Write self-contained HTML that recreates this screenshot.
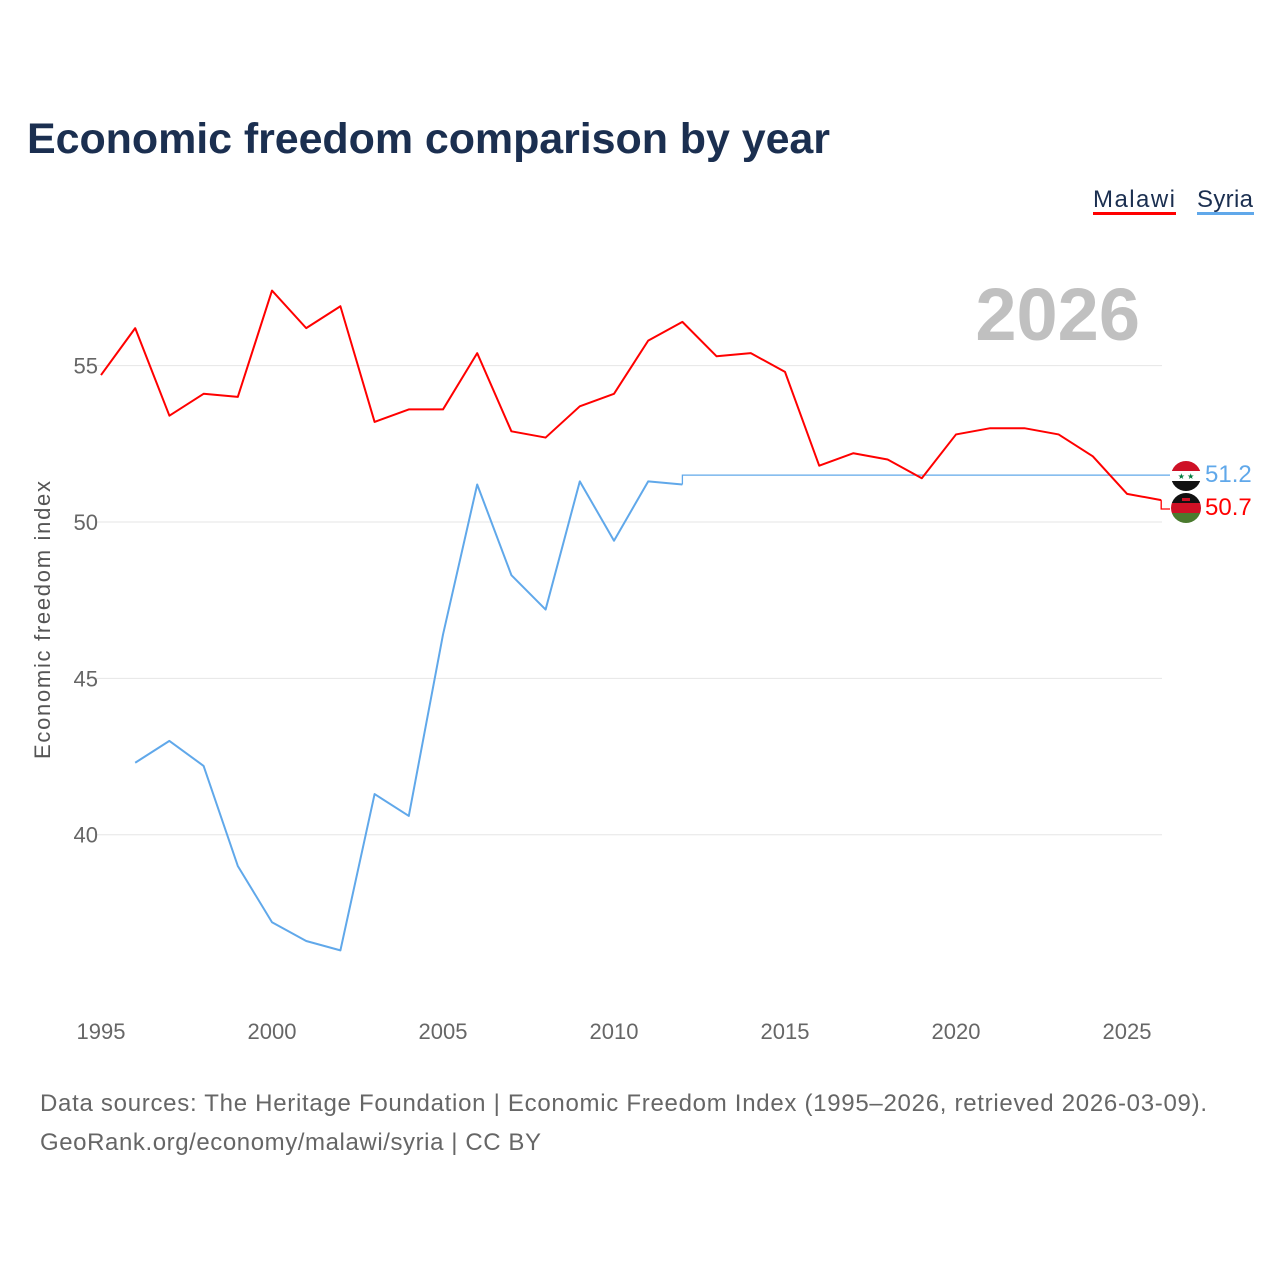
<!DOCTYPE html>
<html><head><meta charset="utf-8"><style>
body{margin:0;background:#fff;font-family:"Liberation Sans",sans-serif}
svg text{font-family:"Liberation Sans",sans-serif}
</style></head><body>
<svg id="chart" width="1280" height="1280" viewBox="0 0 1280 1280">
<text x="27" y="153" font-size="43" font-weight="bold" fill="#1b2f50" textLength="803">Economic freedom comparison by year</text>
<g><text x="1093" y="207" font-size="24" fill="#1b2f50" textLength="82">Malawi</text><rect x="1093" y="212" width="83" height="3" fill="#ff0000"/></g>
<g><text x="1197" y="207" font-size="24" fill="#1b2f50" textLength="56">Syria</text><rect x="1197" y="212" width="57" height="3" fill="#60a8ea"/></g>
<text x="1140" y="340" text-anchor="end" font-size="74" font-weight="bold" fill="#c0c0c0">2026</text>
<text transform="translate(50,620) rotate(-90)" text-anchor="middle" font-size="22" fill="#555" textLength="278">Economic freedom index</text>
<g id="grid"></g><g id="lines"></g>
<g>
<clipPath id="c1"><circle cx="1186" cy="476" r="15"/></clipPath>
<g clip-path="url(#c1)"><rect x="1171" y="461" width="30" height="10" fill="#ce1126"/><rect x="1171" y="471" width="30" height="10" fill="#fff"/><rect x="1171" y="481" width="30" height="10" fill="#111"/><text x="1186" y="479" font-size="8" text-anchor="middle" fill="#007a3d">★ ★</text></g></g>
<g>
<clipPath id="c2"><circle cx="1186" cy="508" r="15"/></clipPath>
<g clip-path="url(#c2)"><rect x="1171" y="493" width="30" height="10" fill="#111"/><rect x="1171" y="503" width="30" height="10" fill="#ce1126"/><rect x="1171" y="513" width="30" height="10" fill="#4a7a2e"/><rect x="1182" y="498" width="8" height="3" fill="#ce1126"/></g></g>
<text x="1205" y="482" font-size="24" fill="#60a8ea">51.2</text>
<text x="1205" y="515" font-size="24" fill="#ff0000">50.7</text>
<text x="40" y="1111" font-size="24" fill="#666" textLength="1167">Data sources: The Heritage Foundation | Economic Freedom Index (1995–2026, retrieved 2026-03-09).</text>
<text x="40" y="1150" font-size="24" fill="#666" textLength="501">GeoRank.org/economy/malawi/syria | CC BY</text>
</svg>
<script>
const years=[];for(let y=1995;y<=2026;y++)years.push(y);
const malawi=[54.7,56.2,53.4,54.1,54.0,57.4,56.2,56.9,53.2,53.6,53.6,55.4,52.9,52.7,53.7,54.1,55.8,56.4,55.3,55.4,54.8,51.8,52.2,52.0,51.4,52.8,53.0,53.0,52.8,52.1,50.9,50.7];
const syria=[null,42.3,43.0,42.2,39.0,37.2,36.6,36.3,41.3,40.6,46.4,51.2,48.3,47.2,51.3,49.4,51.3,51.2,51.5,51.5,51.5,51.5,51.5,51.5,51.5,51.5,51.5,51.5,51.5,51.5,51.5,51.5];
const syriaFilledFrom=2013;
const yTicks=[40,45,50,55];
const xTicks=[1995,2000,2005,2010,2015,2020,2025];
const X=y=>101+(y-1995)*34.2;
const Y=v=>522-(v-50)*31.27;
const NS="http://www.w3.org/2000/svg";
const g=document.getElementById('grid'),L=document.getElementById('lines');
function mk(tag,at,par){const e=document.createElementNS(NS,tag);for(const k in at)e.setAttribute(k,at[k]);par.appendChild(e);return e;}
yTicks.forEach(v=>{
 const l=mk('line',{x1:95,x2:1162,y1:Y(v),y2:Y(v),stroke:'#e6e6e6','stroke-width':1},g);
 
 
 const t=mk('text',{x:98,y:Y(v)+8,'text-anchor':'end','font-size':22,fill:'#666'},g);t.textContent=v;
 
 
});
xTicks.forEach(v=>{
 const t=mk('text',{x:X(v),y:1039,'text-anchor':'middle','font-size':22,fill:'#666'},g);t.textContent=v;
 
 
});
function path(arr,col,name,stepFrom,w){
 let d='';
 arr.forEach((v,i)=>{if(v==null)return;d+=(d?'L':'M')+X(years[i])+','+Y(v);});
 const p=mk('path',{d:d,fill:'none',stroke:col,'stroke-width':w,'stroke-linejoin':'round'},L);
 
 
}
// Syria: solid line for reported years, flat step for forward-filled years
const si=years.indexOf(syriaFilledFrom);
path(syria.slice(0,si),'#60a8ea','syria-line',null,2);
let fd='M'+X(years[si-1])+','+Y(syria[si-1])+'V'+Y(syria[si]);
for(let i=si;i<syria.length;i++)fd+='H'+X(years[i])+'V'+Y(syria[i]);
fd+='H1170';
const f=mk('path',{d:fd,fill:'none',stroke:'#60a8ea','stroke-width':1.3},L);


path(malawi,'#ff0000','malawi-line',null,2);
const last=malawi[malawi.length-1];
const s=mk('path',{d:'M'+X(2026)+','+Y(last)+'V509H1170',fill:'none',stroke:'#ff0000','stroke-width':1.3},L);


</script>
</body></html>
